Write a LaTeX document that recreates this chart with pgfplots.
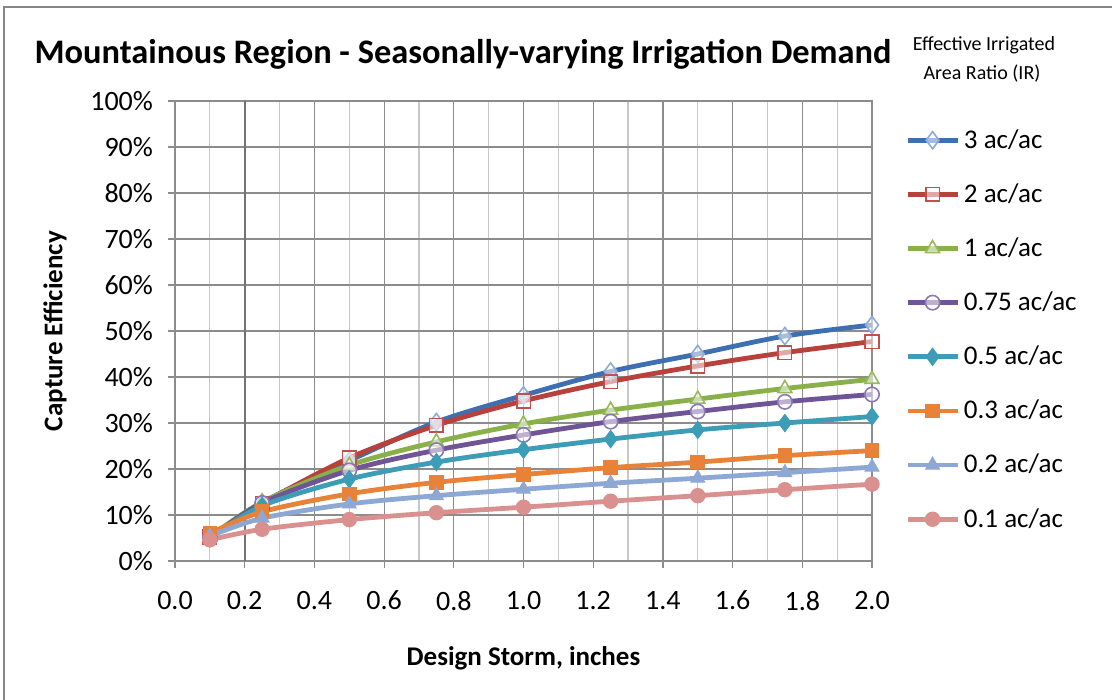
\documentclass[border=0pt]{standalone}
\usepackage{pgfplots}
\pgfplotsset{compat=1.18}
\usepackage{pgfplotstable}
\usepackage{fontspec}
\setmainfont{Carlito}

\definecolor{cA}{RGB}{62,111,176}
\definecolor{cAm}{RGB}{140,170,215}
\definecolor{cB}{RGB}{185,65,60}
\definecolor{cBm}{RGB}{192,80,77}
\definecolor{cC}{RGB}{137,176,73}
\definecolor{cCm}{RGB}{150,185,90}
\definecolor{cD}{RGB}{111,84,150}
\definecolor{cDm}{RGB}{140,120,180}
\definecolor{cE}{RGB}{62,157,182}
\definecolor{cF}{RGB}{232,130,56}
\definecolor{cG}{RGB}{142,168,214}
\definecolor{cH}{RGB}{217,144,143}
\definecolor{gridmaj}{RGB}{140,140,140}
\definecolor{gridmin}{RGB}{200,200,200}
\definecolor{frame}{RGB}{134,134,134}

\pgfplotstableread{
x    a    b    c    d    e    f    g    h
0.1  5.0  5.2  5.2  5.0  5.0  6.0  5.4  4.6
0.25 12.7 12.5 12.8 12.6 12.0 10.7 9.3  6.9
0.5  21.8 22.4 20.8 19.7 17.8 14.6 12.4 9.0
0.75 30.2 29.5 25.9 24.1 21.5 17.1 14.2 10.5
1.0  36.0 34.8 29.8 27.4 24.2 18.8 15.6 11.7
1.25 41.2 39.0 32.8 30.3 26.5 20.3 16.9 13.0
1.5  45.0 42.4 35.2 32.5 28.5 21.5 18.0 14.2
1.75 48.9 45.3 37.5 34.6 30.0 22.9 19.2 15.5
2.0  51.3 47.7 39.5 36.2 31.4 24.0 20.4 16.7
}\datatable

\begin{document}
\begin{tikzpicture}
\useasboundingbox (0,0) rectangle (556pt,350pt);
\draw[frame, line width=1pt] (2pt,0pt) -- (2pt,346.5pt) -- (556pt,346.5pt);
\node[font=\fontsize{17.2}{20}\selectfont\bfseries] at (231.5pt,323pt) {Mountainous Region - Seasonally-varying Irrigation Demand};
\node[font=\fontsize{10}{12}\selectfont, inner sep=0pt] at (492pt,327.5pt) {Effective Irrigated};
\node[font=\fontsize{10}{12}\selectfont, inner sep=0pt] at (491pt,313.2pt) {Area Ratio (IR)};
\begin{axis}[
  at={(87.5pt,69.5pt)}, anchor=south west,
  scale only axis, width=348.5pt, height=230pt,
  xmin=0, xmax=2, ymin=0, ymax=100,
  xtick={0,0.2,0.4,0.6,0.8,1.0,1.2,1.4,1.6,1.8,2.0},
  minor xtick={0.1,0.3,0.5,0.7,0.9,1.1,1.3,1.5,1.7,1.9},
  ytick={0,10,20,30,40,50,60,70,80,90,100},
  grid=both,
  major grid style={gridmaj, line width=0.6pt},
  minor grid style={gridmin, line width=0.6pt},
  axis line style={gridmaj, line width=0.6pt},
  tick align=outside, major tick length=3.5pt, minor tick length=0pt,
  tick style={gridmaj, line width=0.6pt},
  xtick pos=bottom, ytick pos=left,
  /pgf/number format/assume math mode=true,
  tick label style={font=\fontsize{14}{16}\selectfont},
  xticklabel style={/pgf/number format/.cd, fixed, fixed zerofill, precision=1, /tikz/.cd, yshift=-8pt},
  yticklabel={\pgfmathprintnumber{\tick}\%},
  yticklabel style={xshift=-4pt},
  xlabel={Design Storm, inches},
  ylabel={Capture Efficiency},
  label style={font=\fontsize{13.5}{16}\selectfont\bfseries},
  xlabel style={at={(axis description cs:0.5,-0.211)}, anchor=center},
  ylabel style={at={(axis description cs:-0.172,0.5)}, anchor=center},
  legend style={at={(axis description cs:1.047,0.948)}, anchor=north west,
    draw=none, fill=none, font=\fontsize{13.5}{16}\selectfont,
    row sep=12.2pt, inner sep=0pt,
    /tikz/every even column/.style={column sep=1.5pt}},
  legend cell align=left,
  legend image code/.code={\draw[mark repeat=2,mark phase=2] plot coordinates {(0pt,0pt)(12.5pt,0pt)(25pt,0pt)};},
  every axis plot/.append style={line width=2.4pt, smooth, tension=0.5},
]
\draw[black!55, line width=1pt] (axis cs:0.2,0) -- (axis cs:0.2,100);
\addplot[cA, mark=diamond*, mark size=4.3pt, mark options={draw=cAm, fill=white, fill opacity=0.55, line width=0.8pt}] table[x=x,y=a] {\datatable};
\addlegendentry{3 ac/ac}
\addplot[cB, mark=square*, mark size=3.4pt, mark options={draw=cBm, fill=white, fill opacity=0.55, line width=0.8pt}] table[x=x,y=b] {\datatable};
\addlegendentry{2 ac/ac}
\addplot[cC, mark=triangle*, mark size=4pt, mark options={draw=cCm, fill=white, fill opacity=0.55, line width=0.8pt}] table[x=x,y=c] {\datatable};
\addlegendentry{1 ac/ac}
\addplot[cD, mark=*, mark size=3.6pt, mark options={draw=cDm, fill=white, fill opacity=0.55, line width=0.8pt}] table[x=x,y=d] {\datatable};
\addlegendentry{0.75 ac/ac}
\addplot[cE, mark=diamond*, mark size=4.3pt, mark options={draw=cE, fill=cE, line width=0.5pt}] table[x=x,y=e] {\datatable};
\addlegendentry{0.5 ac/ac}
\addplot[cF, mark=square*, mark size=3.4pt, mark options={draw=cF, fill=cF, line width=0.5pt}] table[x=x,y=f] {\datatable};
\addlegendentry{0.3 ac/ac}
\addplot[cG, mark=triangle*, mark size=4pt, mark options={draw=cG, fill=cG, line width=0.5pt}] table[x=x,y=g] {\datatable};
\addlegendentry{0.2 ac/ac}
\addplot[cH, mark=*, mark size=3.6pt, mark options={draw=cH, fill=cH, line width=0.5pt}] table[x=x,y=h] {\datatable};
\addlegendentry{0.1 ac/ac}
\end{axis}
\end{tikzpicture}
\end{document}
